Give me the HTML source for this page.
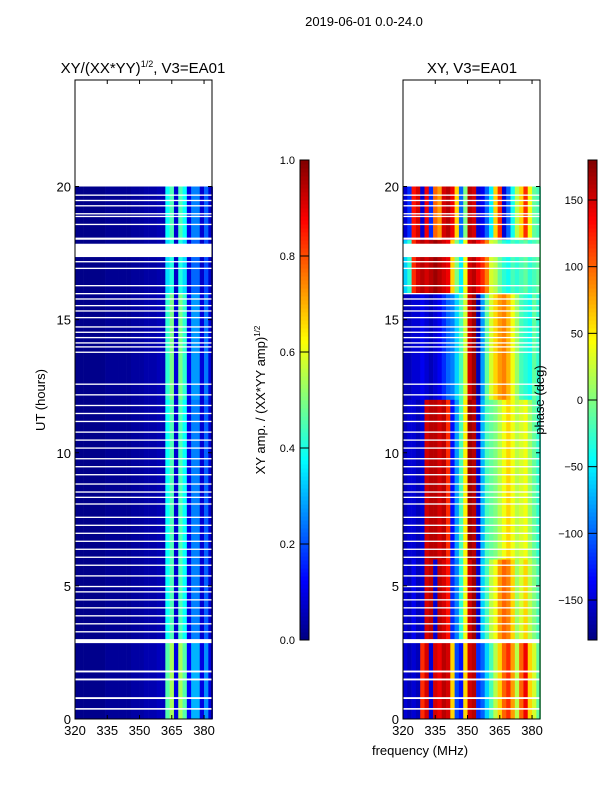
<!DOCTYPE html>
<html><head><meta charset="utf-8"><style>
body{margin:0;background:#fff;width:600px;height:800px;overflow:hidden}
svg{font-family:"Liberation Sans","DejaVu Sans",sans-serif}
</style></head><body>
<svg id="fig" width="600" height="800" viewBox="0 0 600 800" xmlns="http://www.w3.org/2000/svg">
<rect width="600" height="800" fill="#fff"/>
<text x="364" y="26" font-size="13" text-anchor="middle">2019-06-01 0.0-24.0</text>
<text x="143" y="73" font-size="15" text-anchor="middle">XY/(XX*YY)<tspan font-size="9" dy="-6">1/2</tspan><tspan dy="6">, V3=EA01</tspan></text>
<text x="472" y="73" font-size="15" text-anchor="middle">XY, V3=EA01</text>
<text transform="translate(45,400) rotate(-90)" font-size="13" text-anchor="middle">UT (hours)</text>
<text x="420" y="755" font-size="13" text-anchor="middle">frequency (MHz)</text>
<text transform="translate(265,400) rotate(-90)" font-size="13" text-anchor="middle">XY amp. / (XX*YY amp)<tspan font-size="8" dy="-5">1/2</tspan></text>
<g id="left"></g>
<g id="right"></g>
<g id="cb"></g>
<g id="axes"></g>
<text transform="translate(544,400) rotate(-90)" font-size="13" text-anchor="middle">phase (deg)</text>
</svg>
<script>
// data: 32 frequency bins of 2 MHz from 320 to 384
const freqStart = [320,322,324,326,328,330,332,334,336,338,340,342,344,346,348,350,352,354,356,358,360,362,364,366,368,370,372,374,376,378,380,382];
const ampProfile = [0.01,0.01,0.01,0.01,0.01,0.01,0.01,0.02,0.02,0.02,0.02,0.02,0.02,0.03,0.03,0.03,0.04,0.04,0.04,0.05,0.05,0.38,0.45,0.08,0.45,0.38,0.1,0.25,0.25,0.08,0.22,0.08];
const epochStart = [0,3,6,12,16,18];
const epochEnd = [3,6,12,16,18,20];
const ampScale = [1.2,1.0,1.0,1.1,0.9,1.0];
const phase0 = [-150,-160,-150,-160,120,150,-150,150,140,160,150,60,-110,-130,60,150,160,-120,-100,-60,-20,20,60,100,120,80,20,100,140,60,30,-10];
const phase1 = [-150,-160,-140,-160,-150,150,160,-150,160,150,130,-120,-90,-30,40,150,170,-150,-60,-20,20,40,80,100,90,60,10,30,60,20,0,-20];
const phase2 = [-160,-150,-150,-160,-150,150,160,160,150,160,120,-130,-80,-20,50,170,160,-150,-70,-20,-10,0,20,40,60,40,20,30,40,10,-10,-30];
const phase3 = [-160,-160,-150,-150,-140,-150,-160,-150,-140,-120,-100,-90,-60,-20,30,150,170,-160,-80,-10,30,60,80,90,70,40,10,-20,-30,-40,-10,-30];
const phase4 = [-60,-30,120,150,160,150,160,170,160,150,140,60,0,-50,40,150,160,140,120,90,30,20,-10,-30,-40,-20,-30,-20,-10,-30,-20,-10];
const phase5 = [-150,-120,130,150,-150,140,-120,100,80,150,160,140,60,-100,0,160,150,-150,-140,-100,-50,60,120,-150,-100,-40,20,60,120,40,-10,-20];
const phaseEpochs = [phase0,phase1,phase2,phase3,phase4,phase5];
const gapStart = [0.35,0.75,1.45,1.75,2.85,3.25,3.55,3.85,4.15,4.45,4.75,4.95,5.35,5.75,6.05,6.35,6.65,6.95,7.25,7.55,8.05,8.3,8.5,8.8,9.15,9.45,9.75,10.15,10.45,10.75,11.15,11.45,11.75,12.15,12.55,13.75,13.95,14.1,14.3,14.5,14.7,15.05,15.3,15.5,15.75,15.95,16.25,16.9,17.15,17.35,18.0,18.55,18.85,18.95,19.25,19.45,19.65,20.0];
const gapEnd = [0.41,0.82,1.52,1.82,3.0,3.3,3.6,3.9,4.2,4.5,4.8,5.0,5.4,5.8,6.1,6.4,6.7,7.0,7.3,7.6,8.1,8.35,8.55,8.85,9.2,9.5,9.8,10.2,10.5,10.8,11.2,11.5,11.8,12.2,12.6,13.8,14.0,14.15,14.35,14.55,14.75,15.1,15.35,15.55,15.8,16.0,16.3,16.95,17.2,17.85,18.08,18.6,18.9,19.0,19.3,19.5,19.7,24.0];
const yTicks = [0,5,10,15,20];
const xTicks = [320,335,350,365,380];
const ampTicks = [0.0,0.2,0.4,0.6,0.8,1.0];
const phaseTicks = [-150,-100,-50,0,50,100,150];

const NS="http://www.w3.org/2000/svg";
const T=80,B=719, H0=0,H1=24;
const yS=h=>B-(h-H0)/(H1-H0)*(B-T);
function xS(f,L){return L+(f-320)/(383.7-320)*137;}
function jet(v){v=Math.max(0,Math.min(1,v));
 const r=Math.max(0,Math.min(1,1.5-Math.abs(4*v-3))),g=Math.max(0,Math.min(1,1.5-Math.abs(4*v-2))),b=Math.max(0,Math.min(1,1.5-Math.abs(4*v-1)));
 return `rgb(${Math.round(r*255)},${Math.round(g*255)},${Math.round(b*255)})`;}
function rect(p,x,y,w,h,fill){const r=document.createElementNS(NS,'rect');r.setAttribute('x',x);r.setAttribute('y',y);r.setAttribute('width',w);r.setAttribute('height',h);r.setAttribute('fill',fill);p.appendChild(r);return r;}
function line(p,x1,y1,x2,y2){const l=document.createElementNS(NS,'line');l.setAttribute('x1',x1);l.setAttribute('y1',y1);l.setAttribute('x2',x2);l.setAttribute('y2',y2);l.setAttribute('stroke','#000');l.setAttribute('stroke-width',1);p.appendChild(l);}
function text(p,x,y,s,anchor){const t=document.createElementNS(NS,'text');t.setAttribute('x',x);t.setAttribute('y',y);t.setAttribute('font-size',13);t.setAttribute('text-anchor',anchor);t.textContent=s;p.appendChild(t);return t;}
const L1=75,L2=403;
const gl=document.getElementById('left'),gr=document.getElementById('right');
for(let e=0;e<epochStart.length;e++){
 const y0=yS(epochEnd[e]),y1=yS(epochStart[e]);
 for(let i=0;i<freqStart.length;i++){
  const xa=xS(freqStart[i],L1),xb=xS(freqStart[i]+2,L1);
  const c=rect(gl,xa,y0,xb-xa+0.3,y1-y0+0.3,jet(ampProfile[i]*ampScale[e]));
  
  
  const xc=xS(freqStart[i],L2),xd=xS(freqStart[i]+2,L2);
  const d=rect(gr,xc,y0,xd-xc+0.3,y1-y0+0.3,jet((phaseEpochs[e][i]+180)/360));
  
  
 }
}
for(let g=0;g<gapStart.length;g++){
 for(const [p,L] of [[gl,L1],[gr,L2]]){
  const r=rect(p,L,yS(gapEnd[g]),137,yS(gapStart[g])-yS(gapEnd[g]),'#fff');
  
  
 }
}
const ax=document.getElementById('axes');
for(const L of [L1,L2]){
 const f=rect(ax,L,T,137,B-T,'none');f.setAttribute('stroke','#000');
 
 
 yTicks.forEach(v=>{const y=yS(v);line(ax,L,y,L+4,y);line(ax,L+137,y,L+133,y);
  const t=text(ax,L-4,y+5,String(v),'end');
  
  });
 xTicks.forEach(v=>{const x=xS(v,L);line(ax,x,B,x,B-4);line(ax,x,T,x,T+4);
  const t=text(ax,x,B+16,String(v),'middle');
  
  });
}
const cb=document.getElementById('cb');
const CT=160,CB=640;
function cbar(x,lo,hi,ticks){
 for(let k=0;k<120;k++){const v=k/120;rect(cb,x,CB-(k+1)*(CB-CT)/120,9,(CB-CT)/120+0.5,jet(v+0.004));}
 const f=rect(cb,x,CT,9,CB-CT,'none');f.setAttribute('stroke','#000');
 
 
 ticks.forEach(v=>{const y=CB-(v-lo)/(hi-lo)*(CB-CT);line(cb,x,y,x+9,y);
  const t=text(cb,x-5,y+4,Number.isInteger(v)&&hi>1?String(v).replace('-','−'):v.toFixed(1),'end');t.setAttribute('font-size',11);
  
  });
}
cbar(300,0,1,ampTicks);
cbar(588,-180,180,phaseTicks);
</script>
</body></html>
